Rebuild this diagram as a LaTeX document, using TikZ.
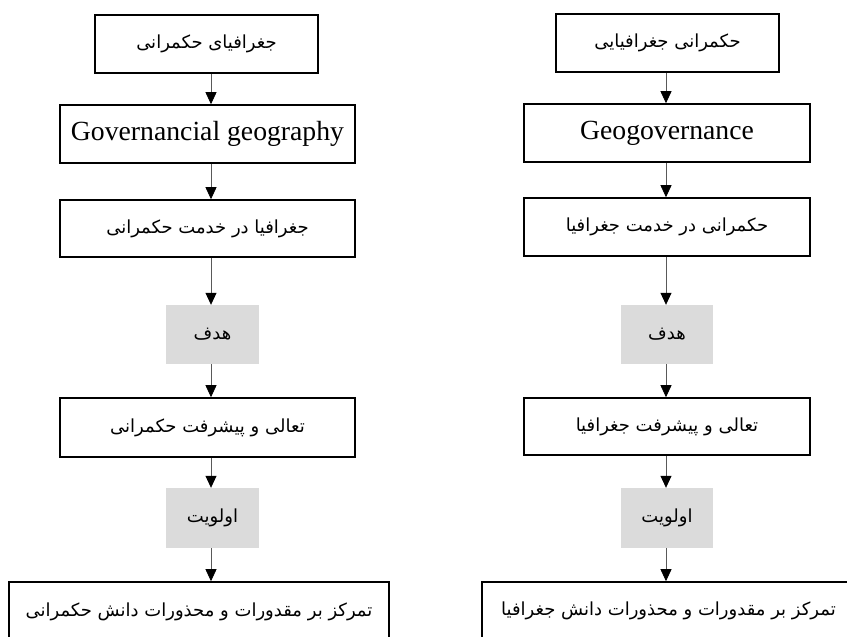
\documentclass[tikz,border=0pt]{standalone}
\usepackage{fontspec}
\setmainfont{Liberation Serif}
\newfontfamily\fa[Script=Arabic]{DejaVu Sans}
\TeXXeTstate=1
\usetikzlibrary{arrows.meta}
\newcommand{\fatext}[1]{\raisebox{-2.5pt}{\beginR #1\endR}}
\tikzset{
  box/.style={draw=black,line width=1.6pt,inner sep=0pt,fill=white,
    font=\fa\fontsize{18}{21}\selectfont},
  entext/.style={font=\fontsize{27.7}{32}\selectfont},
  graybox/.style={fill=gray!28,inner sep=0pt,font=\fa\fontsize{18}{21}\selectfont},
  arr/.style={draw=gray!70!black,line width=0.8pt,-{Triangle[length=12pt,width=11pt,black]}},
  plain/.style={inner sep=0pt,font=\fa\fontsize{18}{21}\selectfont}
}
\begin{document}
\begin{tikzpicture}[x=1pt,y=-1pt]
\useasboundingbox (0,0) rectangle (847,637);
\clip (0,0) rectangle (847,637);
\fill[white] (0,0) rectangle (847,637);
\coordinate (La) at (211,0);
\coordinate (Ra) at (666,0);
% left column
\node[box,minimum width=223pt,minimum height=58pt] (L1) at (206.5,44) {\fatext{جغرافیای حکمرانی}};
\node[box,entext,minimum width=295pt,minimum height=58pt] (L2) at (207.5,134) {\raisebox{-2pt}{Governancial geography}};
\node[box,minimum width=295pt,minimum height=57pt] (L3) at (207.5,228.5) {\fatext{جغرافیا در خدمت حکمرانی}};
\node[graybox,minimum width=93pt,minimum height=59pt] (LG1) at (212.5,334.5) {\fatext{هدف}};
\node[box,minimum width=295pt,minimum height=59pt] (L4) at (207.5,427.5) {\fatext{تعالی و پیشرفت حکمرانی}};
\node[graybox,minimum width=93pt,minimum height=60pt] (LG2) at (212.5,518) {\fatext{اولویت}};
\node[box,minimum width=380pt,minimum height=60pt] (L5) at (199,612) {\fatext{تمرکز بر مقدورات و محذورات دانش حکمرانی}};
% right column
\node[box,minimum width=223pt,minimum height=58pt] (R1) at (667.5,43) {\fatext{حکمرانی جغرافیایی}};
\node[box,entext,minimum width=286pt,minimum height=58pt] (R2) at (667,133) {\raisebox{-2pt}{Geogovernance}};
\node[box,minimum width=286pt,minimum height=58pt] (R3) at (667,227) {\fatext{حکمرانی در خدمت جغرافیا}};
\node[graybox,minimum width=92pt,minimum height=59pt] (RG1) at (667,334.5) {\fatext{هدف}};
\node[box,minimum width=286pt,minimum height=57pt] (R4) at (667,426.5) {\fatext{تعالی و پیشرفت جغرافیا}};
\node[graybox,minimum width=92pt,minimum height=60pt] (RG2) at (667,518) {\fatext{اولویت}};
\node[box,minimum width=398pt,minimum height=60pt] (R5) at (681,612) {};
\node[plain,anchor=east] (R5t) at (836,611) {\fatext{تمرکز بر مقدورات و محذورات دانش جغرافیا}};
% arrows
\foreach \a/\b in {L1/L2,L2/L3,L3/LG1,LG1/L4,L4/LG2,LG2/L5}{
  \draw[arr] (\a.south -| La) -- (\b.north -| La);
}
\foreach \a/\b in {R1/R2,R2/R3,R3/RG1,RG1/R4,R4/RG2,RG2/R5}{
  \draw[arr] (\a.south -| Ra) -- (\b.north -| Ra);
}
\end{tikzpicture}
\end{document}
